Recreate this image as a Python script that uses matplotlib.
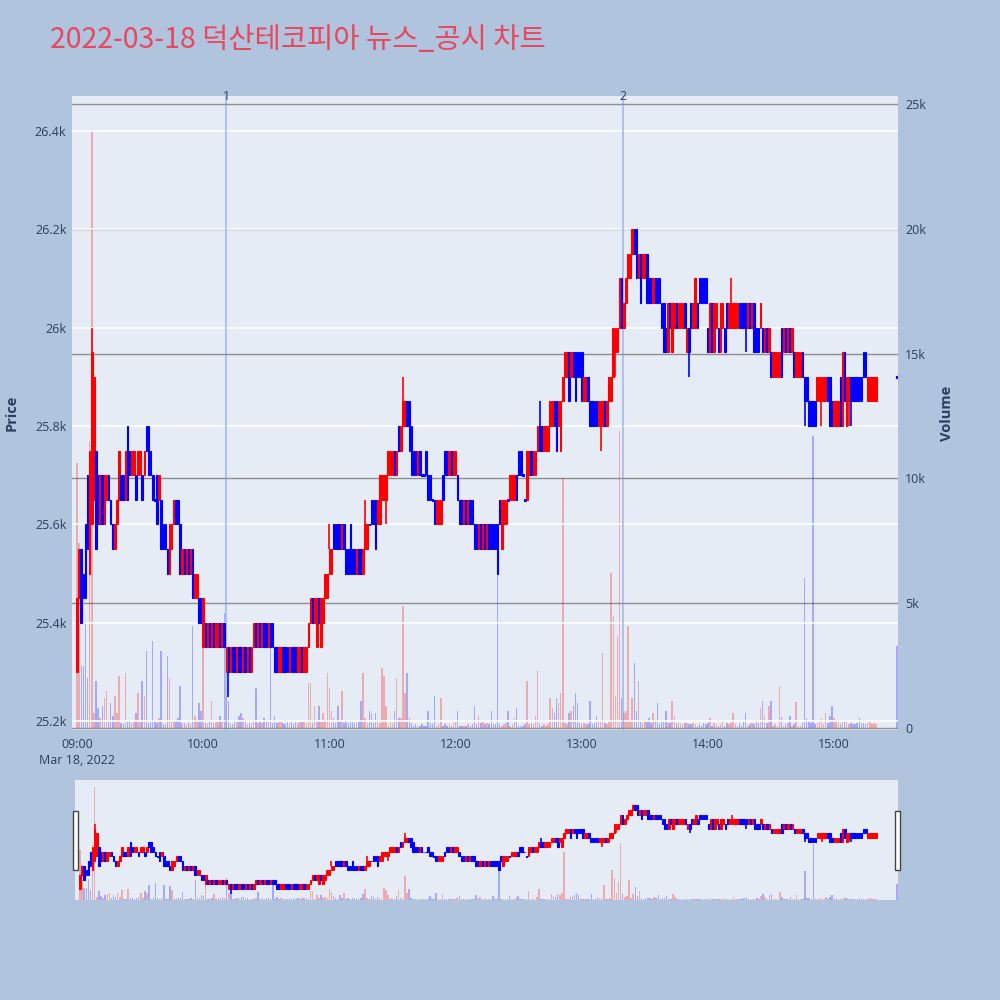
import matplotlib
matplotlib.use('Agg')
import matplotlib.pyplot as plt
import matplotlib.dates as mdates
from matplotlib.patches import Rectangle
import numpy as np
import pandas as pd

# 1-minute candles, 09:00 ~ 15:20 plus the 15:30 closing price
times = list(pd.date_range('2022-03-18 09:00', '2022-03-18 15:20', freq='min')) + [pd.Timestamp('2022-03-18 15:30')]

opens = [
    25300, 25450, 25550, 25500, 25600, 25700, 25500, 25600, 25650, 25750,
    25700, 25600, 25700, 25600, 25650, 25700, 25650, 25600, 25550, 25600,
    25650, 25700, 25700, 25650, 25800, 25750, 25700, 25700, 25700, 25700,
    25700, 25700, 25700, 25800, 25800, 25750, 25700, 25650, 25700, 25650,
    25650, 25600, 25600, 25550, 25500, 25550, 25600, 25650, 25650, 25600,
    25500, 25550, 25500, 25550, 25500, 25550, 25450, 25450, 25450, 25450,
    25350, 25400, 25350, 25400, 25350, 25400, 25350, 25350, 25400, 25350,
    25400, 25300, 25350, 25300, 25350, 25350, 25300, 25350, 25350, 25300,
    25350, 25300, 25350, 25300, 25350, 25400, 25350, 25400, 25350, 25400,
    25400, 25350, 25400, 25400, 25350, 25350, 25300, 25300, 25350, 25350,
    25350, 25300, 25350, 25350, 25350, 25300, 25300, 25350, 25300, 25300,
    25350, 25400, 25450, 25400, 25350, 25450, 25350, 25400, 25450, 25450,
    25500, 25500, 25600, 25600, 25600, 25600, 25550, 25600, 25550, 25550,
    25600, 25550, 25550, 25500, 25550, 25550, 25500, 25550, 25550, 25600,
    25650, 25650, 25650, 25600, 25600, 25650, 25650, 25650, 25700, 25700,
    25700, 25750, 25700, 25800, 25750, 25800, 25800, 25850, 25850, 25800,
    25750, 25750, 25700, 25750, 25700, 25700, 25750, 25700, 25700, 25650,
    25650, 25600, 25600, 25600, 25700, 25750, 25750, 25700, 25750, 25700,
    25700, 25700, 25650, 25650, 25600, 25650, 25600, 25650, 25650, 25600,
    25600, 25550, 25600, 25550, 25600, 25550, 25600, 25600, 25600, 25600,
    25600, 25650, 25550, 25600, 25600, 25650, 25650, 25650, 25650, 25700,
    25750, 25750, 25700, 25650, 25650, 25700, 25750, 25700, 25700, 25750,
    25800, 25800, 25750, 25750, 25750, 25800, 25800, 25850, 25850, 25800,
    25750, 25850, 25900, 25900, 25950, 25900, 25950, 25950, 25950, 25950,
    25950, 25850, 25850, 25900, 25850, 25850, 25850, 25850, 25800, 25800,
    25800, 25850, 25800, 25850, 25850, 25900, 25950, 25950, 26000, 26100,
    26000, 26050, 26100, 26100, 26150, 26200, 26200, 26100, 26150, 26100,
    26100, 26150, 26100, 26100, 26050, 26100, 26100, 26100, 26050, 26050,
    26000, 25950, 26050, 25950, 26000, 26050, 26000, 26000, 26000, 26050,
    25950, 26000, 26050, 26000, 26000, 26050, 26100, 26100, 26100, 26100,
    26000, 25950, 26050, 25950, 26000, 26000, 25950, 26000, 26000, 26050,
    26000, 26000, 26000, 26000, 26000, 26050, 26050, 26050, 26050, 26000,
    26050, 26000, 26050, 26000, 26000, 26000, 26000, 25950, 26000, 25950,
    25950, 25900, 25900, 25900, 25900, 26000, 25950, 26000, 25950, 26000,
    25950, 25950, 25900, 25900, 25900, 25950, 25900, 25900, 25850, 25850,
    25850, 25850, 25850, 25850, 25850, 25850, 25850, 25900, 25900, 25850,
    25800, 25800, 25800, 25900, 25800, 25950, 25800, 25850, 25900, 25900,
    25900, 25900, 25900, 25900, 25950, 25950, 25850, 25850, 25850, 25850, 25850,
    25900,
]
closes = [
    25450, 25550, 25400, 25450, 25450, 25550, 25750, 25950, 25900, 25550,
    25600, 25700, 25600, 25700, 25700, 25650, 25600, 25550, 25600, 25650,
    25750, 25650, 25650, 25750, 25650, 25700, 25750, 25750, 25650, 25750,
    25750, 25650, 25750, 25750, 25700, 25700, 25650, 25650, 25600, 25700,
    25550, 25550, 25550, 25500, 25600, 25600, 25650, 25600, 25600, 25500,
    25550, 25500, 25550, 25500, 25550, 25450, 25500, 25500, 25400, 25400,
    25450, 25350, 25400, 25350, 25400, 25350, 25400, 25400, 25350, 25400,
    25350, 25350, 25300, 25350, 25300, 25300, 25350, 25300, 25300, 25350,
    25300, 25350, 25300, 25350, 25400, 25350, 25400, 25350, 25400, 25350,
    25350, 25400, 25350, 25350, 25300, 25300, 25350, 25350, 25300, 25300,
    25300, 25350, 25300, 25300, 25300, 25350, 25350, 25300, 25350, 25350,
    25400, 25450, 25400, 25450, 25450, 25400, 25450, 25450, 25500, 25500,
    25550, 25550, 25550, 25550, 25550, 25550, 25600, 25550, 25500, 25500,
    25500, 25500, 25500, 25550, 25500, 25500, 25550, 25600, 25600, 25600,
    25600, 25600, 25550, 25650, 25700, 25700, 25700, 25700, 25750, 25750,
    25750, 25700, 25750, 25750, 25800, 25850, 25850, 25800, 25750, 25700,
    25700, 25700, 25750, 25700, 25700, 25700, 25700, 25650, 25650, 25650,
    25600, 25650, 25650, 25650, 25650, 25700, 25700, 25750, 25700, 25750,
    25750, 25650, 25600, 25600, 25650, 25600, 25650, 25600, 25600, 25550,
    25550, 25600, 25550, 25600, 25550, 25600, 25550, 25550, 25550, 25550,
    25500, 25600, 25650, 25650, 25650, 25650, 25700, 25700, 25700, 25650,
    25700, 25700, 25700, 25650, 25750, 25750, 25700, 25750, 25750, 25800,
    25750, 25750, 25800, 25800, 25800, 25850, 25850, 25800, 25750, 25850,
    25850, 25900, 25950, 25950, 25850, 25950, 25900, 25850, 25900, 25900,
    25850, 25900, 25900, 25850, 25800, 25800, 25800, 25800, 25850, 25850,
    25850, 25800, 25850, 25900, 25900, 26000, 26000, 26000, 26100, 26000,
    26050, 26100, 26150, 26150, 26200, 26150, 26100, 26150, 26050, 26150,
    26150, 26050, 26050, 26050, 26100, 26050, 26050, 26050, 26000, 25950,
    25950, 26050, 26000, 26050, 26050, 26000, 26050, 26050, 26050, 26000,
    26000, 25950, 26000, 26050, 26100, 26000, 26050, 26050, 26050, 26050,
    25950, 26050, 25950, 26050, 26050, 25950, 26050, 26050, 25950, 26000,
    26050, 26050, 26050, 26050, 26050, 26000, 26000, 26000, 26000, 26050,
    26000, 26050, 25950, 25950, 25950, 26050, 25950, 26000, 25950, 26000,
    25900, 25950, 25950, 25950, 25950, 25900, 26000, 25950, 26000, 25950,
    26000, 25900, 25950, 25950, 25950, 25900, 25850, 25850, 25800, 25800,
    25800, 25800, 25900, 25900, 25900, 25900, 25900, 25850, 25800, 25800,
    25850, 25850, 25850, 25800, 25950, 25850, 25900, 25900, 25850, 25850,
    25850, 25850, 25850, 25850, 25900, 25900, 25900, 25900, 25900, 25900, 25900,
    25900,
]
# wicks reaching past the body (candle index -> price)
wick_high = {7: 26000, 120: 25600, 137: 25650, 155: 25900, 220: 25850, 311: 26100}
wick_low = {72: 25250, 147: 25600, 249: 25750, 256: 25900, 291: 25900,
            318: 25950, 346: 25800, 354: 25800, 367: 25800, 368: 25800}

volumes = [
    10600, 7400, 2500, 2500, 4300, 2000, 11500, 23900, 600, 1900,
    800, 400, 900, 1200, 1500, 300, 1000, 500, 1300, 600,
    2100, 200, 150, 2200, 250, 300, 200, 250, 600, 1400,
    250, 1900, 1300, 3100, 200, 250, 3500, 250, 200, 400,
    3100, 150, 150, 2900, 2000, 300, 300, 300, 400, 1700,
    200, 200, 150, 250, 200, 4100, 500, 300, 1000, 700,
    3200, 200, 200, 300, 1100, 200, 250, 300, 500, 300,
    4600, 1300, 1100, 150, 150, 300, 250, 500, 600, 400,
    300, 150, 200, 150, 300, 1600, 200, 250, 200, 400,
    300, 250, 3500, 200, 500, 200, 250, 250, 200, 150,
    250, 200, 300, 150, 250, 200, 300, 250, 300, 200,
    1800, 1800, 200, 900, 300, 900, 250, 600, 300, 2200,
    1600, 700, 400, 200, 900, 300, 1500, 200, 300, 200,
    250, 250, 200, 300, 250, 1100, 2200, 400, 200, 700,
    600, 200, 600, 300, 200, 2400, 2100, 900, 100, 300,
    200, 700, 2000, 400, 400, 4900, 1400, 2200, 400, 200,
    100, 150, 100, 100, 150, 100, 100, 700, 200, 150,
    1300, 100, 150, 1200, 100, 150, 100, 150, 100, 200,
    250, 700, 100, 100, 100, 100, 150, 100, 150, 900,
    150, 500, 200, 300, 150, 200, 150, 700, 150, 150,
    6200, 150, 100, 150, 200, 700, 100, 150, 400, 800,
    100, 100, 100, 150, 1900, 150, 200, 150, 500, 2300,
    150, 100, 150, 100, 150, 1200, 800, 600, 1200, 1000,
    1400, 10000, 200, 150, 600, 700, 900, 1400, 1000, 200,
    150, 200, 150, 150, 1100, 150, 200, 500, 300, 250,
    3000, 200, 150, 300, 6200, 4500, 1300, 3700, 11900, 1200,
    600, 700, 4100, 300, 1200, 2600, 700, 1900, 250, 200,
    300, 250, 400, 200, 600, 300, 1000, 150, 300, 300,
    700, 200, 200, 1100, 500, 200, 200, 150, 150, 200,
    200, 150, 150, 200, 150, 100, 150, 100, 200, 150,
    200, 400, 100, 200, 150, 100, 150, 300, 100, 200,
    150, 200, 600, 150, 100, 200, 100, 300, 600, 100,
    150, 200, 150, 300, 200, 800, 1100, 500, 200, 900,
    1100, 100, 150, 100, 1700, 450, 100, 150, 200, 500,
    100, 150, 1050, 100, 100, 200, 6000, 400, 300, 200,
    11700, 150, 200, 300, 400, 150, 600, 200, 500, 900,
    400, 300, 200, 150, 300, 300, 250, 150, 200, 150,
    150, 200, 400, 150, 200, 150, 200, 250, 150, 200, 150,
    3300,
]

news_times = ['2022-03-18 10:11', '2022-03-18 13:19:30']
news_labels = ['1', '2']

title = '2022-03-18 덕산테코피아 뉴스_공시 차트'
price_ticks = [25200, 25400, 25600, 25800, 26000, 26200, 26400]
price_labels = ['25.2k', '25.4k', '25.6k', '25.8k', '26k', '26.2k', '26.4k']
vol_ticks = [0, 5000, 10000, 15000, 20000, 25000]
vol_labels = ['0', '5k', '10k', '15k', '20k', '25k']
time_ticks = ['09:00', '10:00', '11:00', '12:00', '13:00', '14:00', '15:00']

RED = '#FF0000'
BLUE = '#0000FF'
BG = '#B0C4DE'
PLOT_BG = '#E5ECF6'
FONT = '#2a3f5f'
MIN = 1 / 1440

plt.rcParams['font.family'] = ['Open Sans', 'DejaVu Sans']

x = mdates.date2num(times)
o = np.array(opens, dtype=float)
c = np.array(closes, dtype=float)
up = c > o
colors = np.where(up, RED, BLUE)
body_lo = np.minimum(o, c)
body_hi = np.maximum(o, c)
flat = body_hi == body_lo


def draw(ax, axv, lw):
    # volume bars on the secondary axis
    axv.bar(x, volumes, width=0.7 * MIN, color=colors, alpha=0.28, linewidth=0)
    # candle bodies
    ax.bar(x, np.where(flat, 3, body_hi - body_lo), bottom=np.where(flat, body_lo - 1.5, body_lo),
           width=0.75 * MIN, color=colors, edgecolor=colors, linewidth=lw, zorder=3)
    for k, v in wick_high.items():
        ax.vlines(x[k], body_hi[k], v, colors=colors[k], linewidth=lw + 0.4, zorder=3)
    for k, v in wick_low.items():
        ax.vlines(x[k], v, body_lo[k], colors=colors[k], linewidth=lw + 0.4, zorder=3)


fig = plt.figure(figsize=(10, 10), dpi=100)
fig.patch.set_facecolor(BG)

x0 = mdates.date2num(pd.Timestamp('2022-03-18 09:00'))
xlim = (x0 - 2.4 * MIN, x0 + 390.4 * MIN)
ylim = (25182, 26471)
vlim = (-80, 25320)

# main chart
ax = fig.add_axes([0.072, 0.27, 0.826, 0.634])
axv = ax.twinx()
ax.set_zorder(axv.get_zorder() + 1)
ax.patch.set_visible(False)
axv.patch.set_visible(True)
axv.set_facecolor(PLOT_BG)

draw(ax, axv, 0.8)

ax.set_xlim(xlim)
ax.set_ylim(ylim)
axv.set_ylim(vlim)

ax.set_yticks(price_ticks)
ax.set_yticklabels(price_labels)
axv.set_yticks(vol_ticks)
axv.set_yticklabels(vol_labels)
tick_pos = mdates.date2num(pd.to_datetime(['2022-03-18 ' + t for t in time_ticks]))
ax.set_xticks(tick_pos)
ax.set_xticklabels([time_ticks[0] + '\nMar 18, 2022'] + time_ticks[1:], linespacing=1.3)

ax.grid(axis='y', color='white', linewidth=1.2)
ax.grid(axis='x', visible=False)
axv.grid(axis='y', color='#8f8f8f', linewidth=1.0)
axv.set_axisbelow(True)
ax.set_axisbelow(True)

for a in (ax, axv):
    for s in a.spines.values():
        s.set_visible(False)
    a.tick_params(length=0, labelsize=9, colors=FONT)
ax.tick_params(axis='y', pad=4)
ax.tick_params(axis='x', pad=6)
axv.tick_params(axis='y', pad=5)

ax.set_ylabel('Price', fontsize=10.5, fontweight='bold', color=FONT, labelpad=12)
axv.set_ylabel('Volume', fontsize=10.5, fontweight='bold', color=FONT, labelpad=10)

# news markers
for t, lab in zip(news_times, news_labels):
    xn = mdates.date2num(pd.Timestamp(t))
    ax.axvline(xn, color='#6f8ff0', alpha=0.6, linewidth=1.1, zorder=2)
    ax.text(xn, 1.0, lab, transform=ax.get_xaxis_transform(), ha='center', va='center',
            fontsize=9, color=FONT, clip_on=False)

fig.text(0.05, 0.96, title, fontsize=20.5, color='#E8475E', ha='left', va='center',
         family=['Noto Sans CJK KR', 'DejaVu Sans'])

# range slider
sl = fig.add_axes([0.075, 0.10, 0.823, 0.12])
slv = sl.twinx()
sl.set_zorder(slv.get_zorder() + 1)
sl.patch.set_visible(False)
slv.patch.set_visible(True)
slv.set_facecolor(PLOT_BG)
draw(sl, slv, 0.8)
sl.set_xlim(xlim)
sl.set_ylim(ylim)
slv.set_ylim(vlim)
for a in (sl, slv):
    a.set_xticks([])
    a.set_yticks([])
    for s in a.spines.values():
        s.set_visible(False)

for hx in (0.073, 0.895):
    fig.patches.append(Rectangle((hx, 0.13), 0.005, 0.059, transform=fig.transFigure,
                                 facecolor='white', edgecolor='#444444', linewidth=1, zorder=10))

fig.savefig('out.png', dpi=100, facecolor=BG)
